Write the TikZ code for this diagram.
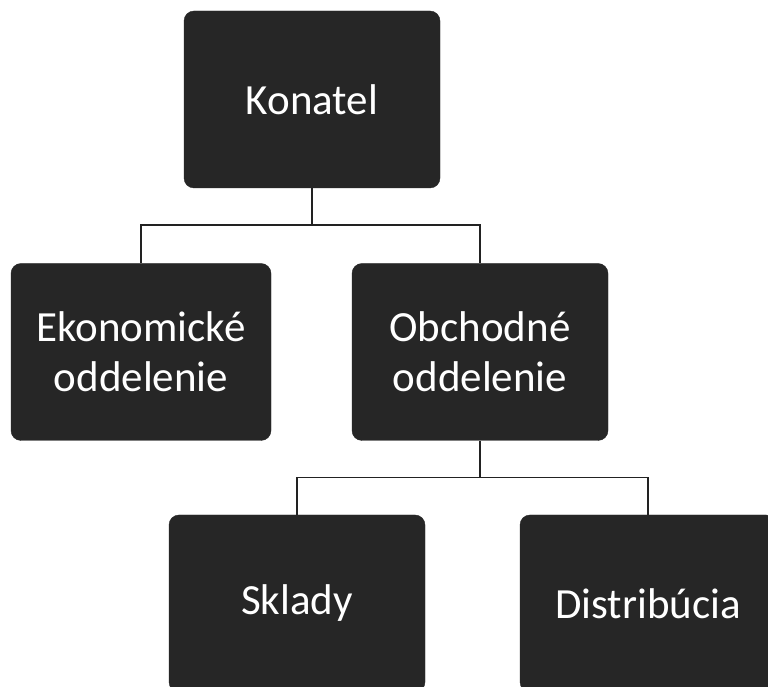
\documentclass[tikz,border=0pt]{standalone}
\usepackage{fontspec}
\setmainfont{Carlito}
\usetikzlibrary{positioning, calc}
\definecolor{boxfill}{HTML}{262626}
\definecolor{linecol}{HTML}{222222}

\begin{document}
\begin{tikzpicture}[
    x=1pt, y=1pt,
    orgbox/.style={
        fill=boxfill,
        draw=boxfill,
        rounded corners=10pt,
        text=white,
        align=center,
        inner sep=0pt,
        minimum width=256pt,
        minimum height=177pt,
        font=\fontsize{43}{50}\selectfont,
    },
    orgline/.style={
        linecol,
        line width=1.6pt,
    },
]

% page size, picture is cut at bottom and right
\useasboundingbox (0,0) rectangle (768,687);
\fill[white] (0,0) rectangle (768,687);

% =============================================
% TOP LEVEL
% =============================================
\node[orgbox] (konatel) at (312,587.5) {Konatel};

% =============================================
% DEPARTMENTS
% =============================================
\node[orgbox, minimum width=260pt] (ekonom) at (141,335) {Ekonomické\\oddelenie};
\node[orgbox] (obchod) at (480,335) {Obchodné\\oddelenie};

% =============================================
% UNDER OBCHODNE ODDELENIE
% =============================================
\node[orgbox] (sklady) at (297,603.5-520) {Sklady};
\node[orgbox] (distrib) at (648,603.5-520) {Distribúcia};

% =============================================
% CONNECTORS
% =============================================
\draw[orgline] (konatel.south) -- ++(0,-37) coordinate (bus1);
\draw[orgline] (bus1) -| (ekonom.north);
\draw[orgline] (bus1) -| (obchod.north);

\draw[orgline] (obchod.south) -- ++(0,-37) coordinate (bus2);
\draw[orgline] (bus2) -| (sklady.north);
\draw[orgline] (bus2) -| (distrib.north);

\end{tikzpicture}
\end{document}
